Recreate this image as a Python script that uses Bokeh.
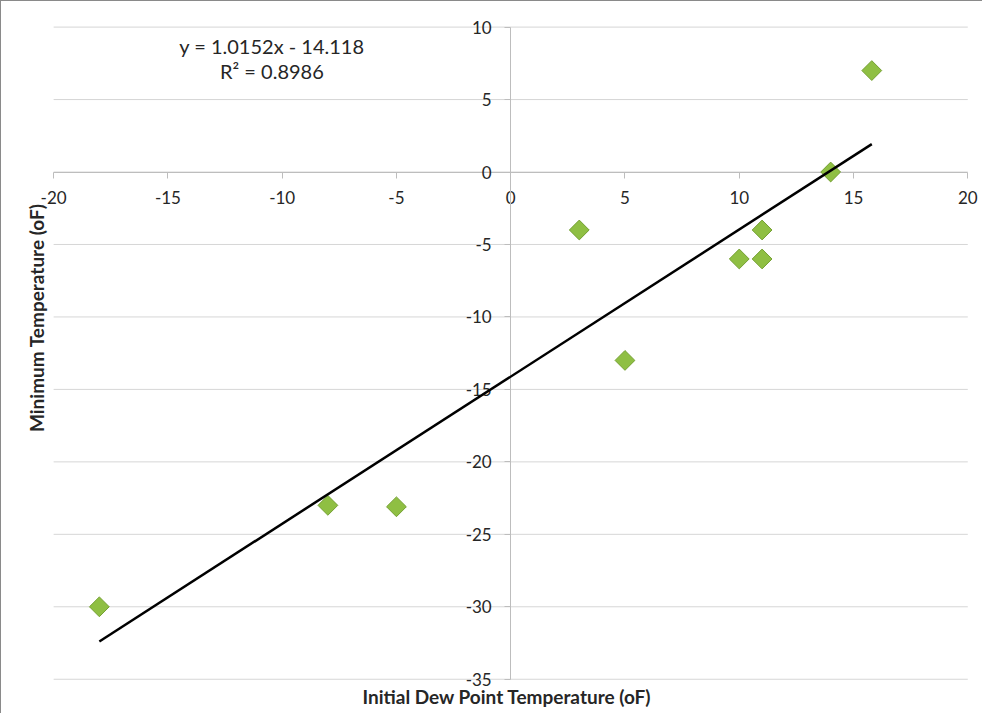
import numpy as np
from bokeh.plotting import figure
from bokeh.models import Range1d, FixedTicker, Title, Label
from bokeh.embed import file_html
from bokeh.resources import INLINE

# Data
dew_point = [-18, -8, -5, 3, 5, 10, 11, 11, 14, 15.8]
min_temp = [-30, -23, -23.1, -4, -13, -6, -4, -6, 0, 7]
slope = 1.0152
intercept = -14.118
r_squared = 0.8986
x_ticks = [-20, -15, -10, -5, 0, 5, 10, 15, 20]
y_ticks = [10, 5, 0, -5, -10, -15, -20, -25, -30, -35]

FONT = "Lato"
TXT = "#262626"
AXIS = "#bdbdbd"
GRID = "#d6d6d6"

x_lo, x_hi = min(x_ticks), max(x_ticks)
y_lo, y_hi = min(y_ticks), max(y_ticks)

# a little room around the axes so the end tick labels are not clipped
p = figure(width=982, height=713, output_backend="svg", toolbar_location=None,
           x_range=Range1d(x_lo - 0.75, x_hi + 0.6),
           y_range=Range1d(y_lo - 0.5, y_hi + 0.8),
           min_border_left=35, min_border_right=2, min_border_top=14,
           min_border_bottom=28, outline_line_color=None)
p.styles = {"border-left": "1px solid #8a8a8a", "border-top": "1px solid #8a8a8a"}

# horizontal gridlines spanning the x axis extent
p.segment(x0=[x_lo] * len(y_ticks), x1=[x_hi] * len(y_ticks), y0=y_ticks, y1=y_ticks,
          line_color=GRID, line_width=1, level="underlay")
p.xgrid.visible = False
p.ygrid.visible = False

# axes crossing at zero
for ax, ticks, bounds in ((p.xaxis[0], x_ticks, (x_lo, x_hi)),
                          (p.yaxis[0], y_ticks, (y_lo, y_hi))):
    ax.ticker = FixedTicker(ticks=ticks)
    ax.fixed_location = 0
    ax.bounds = bounds
    ax.axis_line_color = AXIS
    ax.major_tick_line_color = AXIS
    ax.major_tick_in = 0
    ax.major_tick_out = 6
    ax.minor_tick_line_color = None
    ax.major_label_overrides = {t: str(t) for t in ticks}
    ax.major_label_text_font = FONT
    ax.major_label_text_font_size = "17px"
    ax.major_label_text_color = TXT
    ax.major_label_standoff = 13
    ax.level = "underlay"

# points
p.scatter(dew_point, min_temp, marker="square", angle=np.pi / 4, size=14,
          fill_color="#8fbf43", line_color="#74a032", line_width=1)

# trendline (drawn over the points, as in the original)
tx = np.array([min(dew_point), max(dew_point)])
p.line(tx, slope * tx + intercept, line_color="black", line_width=2.5)

# equation labels
p.add_layout(Label(x=-10.45, y=8.7, text=f"y = {slope}x - {abs(intercept)}",
                   text_align="center", text_baseline="middle", text_font=FONT,
                   text_font_size="20px", text_color=TXT))
p.add_layout(Label(x=-10.45, y=6.95, text=f"R² = {r_squared}",
                   text_align="center", text_baseline="middle", text_font=FONT,
                   text_font_size="20px", text_color=TXT))

# axis titles
p.add_layout(Title(text="Initial Dew Point Temperature (oF)", align="left",
                   offset=326, text_font=FONT, text_font_size="19px",
                   text_font_style="bold", text_color=TXT, standoff=-8), "below")
p.add_layout(Title(text="Minimum Temperature (oF)", align="right", offset=188,
                   text_font=FONT, text_font_size="19px", text_font_style="bold",
                   text_color=TXT, standoff=-22), "left")

open("out.html", "w").write(file_html(p, INLINE))
